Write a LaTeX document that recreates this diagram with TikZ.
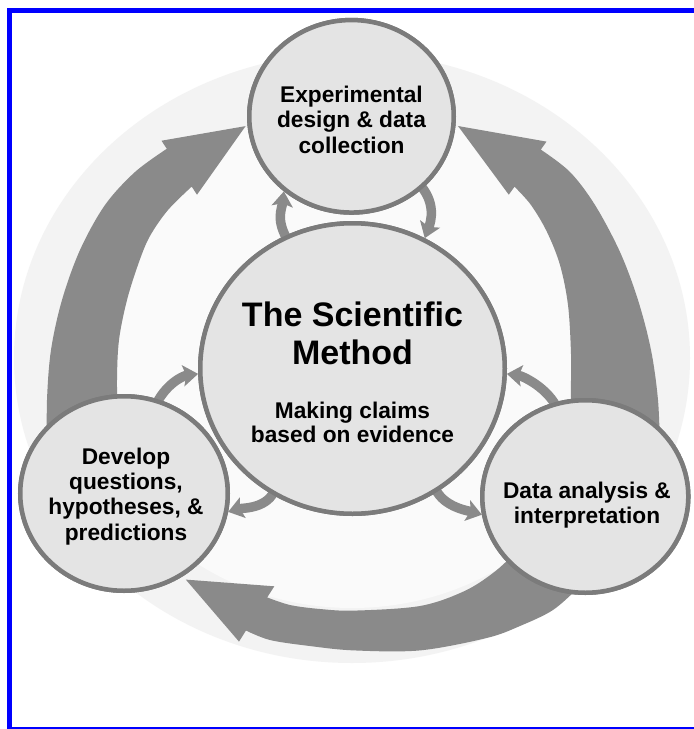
\documentclass[tikz,border=0pt]{standalone}
\usepackage{fontspec}
\setmainfont{Liberation Sans}
\usetikzlibrary{arrows.meta,shapes.geometric}
\definecolor{arrowgray}{HTML}{8A8A8A}
\definecolor{bubblefill}{HTML}{E4E4E4}
\definecolor{bubbleline}{HTML}{7B7B7B}
\definecolor{bgout}{HTML}{F3F3F3}
\definecolor{bgin}{HTML}{FAFAFA}
\definecolor{frameblue}{HTML}{0000FF}
\begin{document}
\begin{tikzpicture}[x=1pt,y=-1pt,
  bubble/.style={ellipse,draw=bubbleline,fill=bubblefill,line width=4.5pt,inner sep=0pt},
  lbl/.style={font=\fontsize{22.7}{25.5}\selectfont\bfseries,inner sep=0pt,anchor=base},
  ttl/.style={font=\fontsize{34}{37.6}\selectfont\bfseries,inner sep=0pt,anchor=base},
  bigarrow/.style={fill=arrowgray},
  smallarrow/.style={draw=arrowgray,line width=9.5pt,shorten <=-8pt,
    -{Stealth[length=15pt,width=21pt,inset=3pt]}}]
\useasboundingbox (0,0) rectangle (694,729);
% background
\fill[white] (0,0) rectangle (694,729);
\fill[bgout] (352,358) ellipse[x radius=338,y radius=305];
\fill[bgin] (352,358) ellipse[x radius=272,y radius=250];
% frame
\fill[frameblue] (7,8) rectangle (12,729);
\fill[frameblue] (7,8) rectangle (694,13);
\fill[frameblue] (7,727) rectangle (694,729);
% big arrows
% left: L -> T
\fill[bigarrow] plot[smooth,tension=0.55] coordinates {(47,450) (47,400) (51,350) (62,300) (80,250) (105,205) (135,172) (166.8,148.8)}
  -- (161.5,140.7) -- (245.6,126.1) -- (197,194.7) -- (191.7,186.6)
  -- plot[smooth,tension=0.55] coordinates {(191.7,186.6) (168,210) (150,236) (139,262) (127,300) (119,340) (117,380) (118,420) (120,450)} -- cycle;
% right: R -> T
\fill[bigarrow] plot[smooth,tension=0.55] coordinates {(660,450) (658,400) (651,350) (638,300) (620,252) (595,205) (570,172) (540.8,149.6)}
  -- (546.5,141.6) -- (458,126) -- (508.8,194.7) -- (514.5,186.7)
  -- plot[smooth,tension=0.55] coordinates {(514.5,186.7) (531,205) (547,232) (560,265) (568,305) (571,354) (571,398) (573,450)} -- cycle;
% bottom: R -> L
\fill[bigarrow] plot[smooth,tension=0.55] coordinates {(578,588) (553,610) (520,626) (486.7,638) (420,650.4) (354,650.4) (309.7,646) (270,640) (246,630.5)}
  -- (239,641.6) -- (185.8,579.6) -- (274.3,586.3) -- (267.2,597.4)
  -- plot[smooth,tension=0.55] coordinates {(267.2,597.4) (290,605) (320,609) (354,610.6) (420,606) (464.6,591) (495.6,571) (520,548)} -- cycle;
% circles (named), small arrows between them
\node[bubble,minimum width=204.5pt,minimum height=192.5pt] (cT) at (351.5,116.3) {};
\node[bubble,minimum width=304.5pt,minimum height=290.5pt] (cC) at (352.5,368.5) {};
\node[bubble,minimum width=207.5pt,minimum height=194.5pt] (cL) at (124,493.5) {};
\node[bubble,minimum width=206pt,minimum height=192.5pt] (cR) at (585.3,496.5) {};
\draw[smallarrow] (cC.117) .. controls +(-10,-16) and +(-2,18) .. (cT.228);
\draw[smallarrow] (cT.-45) .. controls +(14,14) and +(6,-16) .. (cC.61);
\draw[smallarrow] (cL.70) .. controls +(6,-14) and +(-16,2) .. (cC.182);
\draw[smallarrow] (cC.-122) .. controls +(-4,14) and +(14,-4) .. (cL.-10);
\draw[smallarrow] (cR.108) .. controls +(-6,-14) and +(16,2) .. (cC.-2);
\draw[smallarrow] (cC.-56) .. controls +(4,14) and +(-14,-4) .. (cR.190);
% redraw circles over small-arrow tails
\node[bubble,minimum width=204.5pt,minimum height=192.5pt] (cTtop) at (351.5,116.3) {};
\node[bubble,minimum width=304.5pt,minimum height=290.5pt] (cCtop) at (352.5,368.5) {};
\node[bubble,minimum width=207.5pt,minimum height=194.5pt] (cLtop) at (124,493.5) {};
\node[bubble,minimum width=206pt,minimum height=192.5pt] (cRtop) at (585.3,496.5) {};
% text
\node[lbl] (tT1) at (351.5,102) {Experimental};
\node[lbl] (tT2) at (351.5,127.5) {design \& data};
\node[lbl] (tT3) at (351.5,153) {collection};
\node[ttl] (tC1) at (352.5,326) {The Scientific};
\node[ttl] (tC2) at (352.5,364) {Method};
\node[lbl] (tC3) at (352.5,418) {Making claims};
\node[lbl] (tC4) at (352.5,442.5) {based on evidence};
\node[lbl] (tL1) at (126,464) {Develop};
\node[lbl] (tL2) at (126,489.3) {questions,};
\node[lbl] (tL3) at (126,514.6) {hypotheses, \&};
\node[lbl] (tL4) at (126,540) {predictions};
\node[lbl] (tR1) at (587,498) {Data analysis \&};
\node[lbl] (tR2) at (587,523) {interpretation};
\end{tikzpicture}
\end{document}
